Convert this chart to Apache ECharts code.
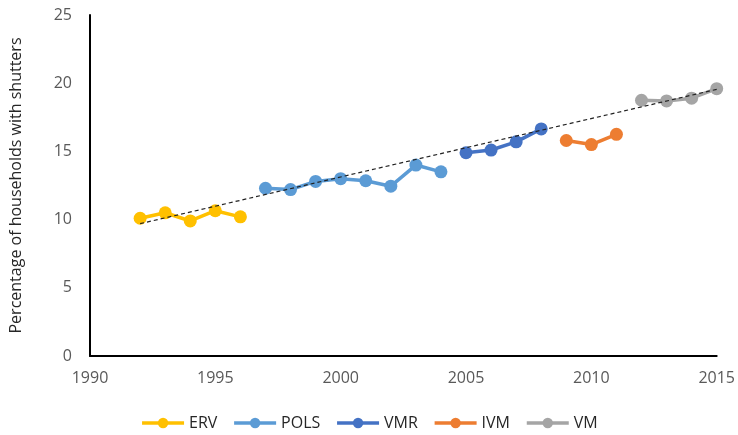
<!DOCTYPE html>
<html>
<head>
<meta charset="utf-8">
<script src="https://cdn.jsdelivr.net/npm/echarts@6/dist/echarts.min.js"></script>
<style>html,body{margin:0;padding:0;background:#fff}#c{width:738px;height:435px}</style>
</head>
<body>
<div id="c"></div>
<script>
const seriesNames = ['ERV', 'POLS', 'VMR', 'IVM', 'VM'];
const ervYears = [1992, 1993, 1994, 1995, 1996];
const ervValues = [10.1, 10.5, 9.9, 10.65, 10.2];
const polsYears = [1997, 1998, 1999, 2000, 2001, 2002, 2003, 2004];
const polsValues = [12.3, 12.2, 12.8, 13.0, 12.85, 12.45, 14.0, 13.5];
const vmrYears = [2005, 2006, 2007, 2008];
const vmrValues = [14.9, 15.1, 15.7, 16.65];
const ivmYears = [2009, 2010, 2011];
const ivmValues = [15.8, 15.5, 16.25];
const vmYears = [2012, 2013, 2014, 2015];
const vmValues = [18.75, 18.7, 18.9, 19.6];
const trendYears = [1992, 2015];
const trendValues = [9.7, 19.55];
const xTicks = [1990, 1995, 2000, 2005, 2010, 2015];
const yTicks = [0, 5, 10, 15, 20, 25];

const colors = ['#FFC000', '#5B9BD5', '#4472C4', '#ED7D31', '#A5A5A5'];
const years = [ervYears, polsYears, vmrYears, ivmYears, vmYears];
const vals = [ervValues, polsValues, vmrValues, ivmValues, vmValues];
const pair = (xs, ys) => xs.map((x, i) => [x, ys[i]]);

const series = seriesNames.map((n, k) => ({
  name: n, type: 'line', data: pair(years[k], vals[k]),
  symbol: 'circle', symbolSize: 13,
  lineStyle: { width: 3.5, color: colors[k] },
  itemStyle: { color: colors[k] },
  z: 2
}));
series.push({
  name: 'trend', type: 'line', data: pair(trendYears, trendValues),
  symbol: 'none', lineStyle: { width: 1.2, type: [4, 3], color: '#222' }, z: 5
});

const chart = echarts.init(document.getElementById('c'));
chart.setOption({
  animation: false,
  textStyle: { fontFamily: 'Open Sans' },
  grid: { left: 90, right: 21, top: 15, bottom: 79 },
  xAxis: {
    type: 'value', min: xTicks[0], max: xTicks[xTicks.length - 1], interval: 5,
    axisLine: { lineStyle: { color: '#000', width: 2 } },
    axisTick: { show: false }, splitLine: { show: false },
    axisLabel: { color: '#595959', fontSize: 16, margin: 14, formatter: v => String(v) }
  },
  yAxis: {
    type: 'value', min: yTicks[0], max: yTicks[yTicks.length - 1], interval: 5,
    name: 'Percentage of households with shutters', nameLocation: 'middle', nameGap: 66,
    nameTextStyle: { color: '#262626', fontSize: 16 },
    axisLine: { show: true, lineStyle: { color: '#000', width: 2 } },
    axisTick: { show: false }, splitLine: { show: false },
    axisLabel: { color: '#595959', fontSize: 16, margin: 18 }
  },
  legend: {
    data: seriesNames, bottom: -1, left: 'center', itemWidth: 42, itemHeight: 13, itemGap: 15,
    lineStyle: { width: 3.5 },
    textStyle: { color: '#262626', fontSize: 16 }
  },
  series: series
});
</script>
</body>
</html>
